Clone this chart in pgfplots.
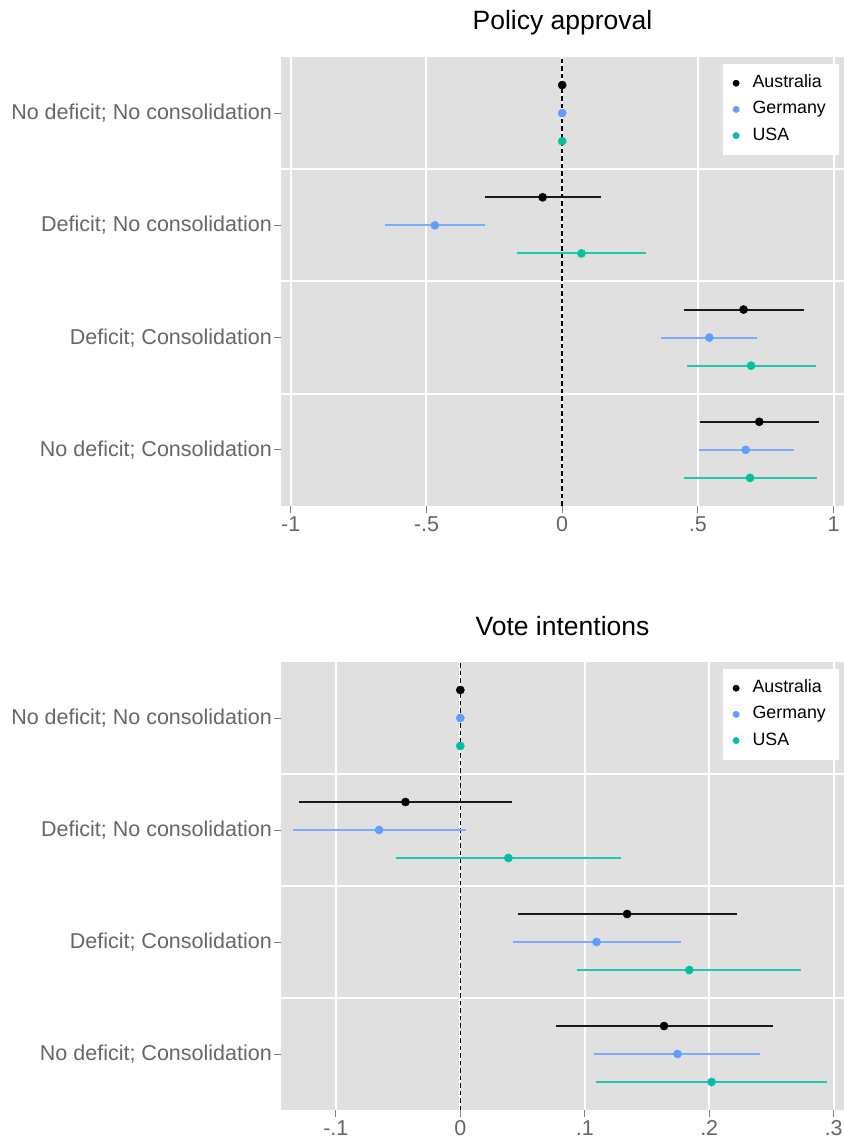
\documentclass[border=0pt]{standalone}
\usepackage{fontspec}
\setmainfont{Liberation Sans}
\usepackage{pgfplots}
\pgfplotsset{compat=1.18}
\usepackage{pgfplotstable}
\definecolor{panel}{HTML}{E0E0E0}
\definecolor{labgray}{HTML}{666666}
\definecolor{tickgray}{HTML}{7F7F7F}
\definecolor{gerblue}{HTML}{619CFF}
\definecolor{usateal}{HTML}{00BFA4}
\colorlet{ausline}{black!90!white}
\colorlet{gerline}{gerblue!85!white}
\colorlet{usaline}{usateal!88!white}

% ---------- Policy approval: point estimates ----------
\pgfplotstableread{
x y
0 4.25
-0.072 3.25
0.668 2.25
0.726 1.25
}\PAaus
\pgfplotstableread{
x y
0 4
-0.469 3
0.542 2
0.676 1
}\PAger
\pgfplotstableread{
x y
0 3.75
0.071 2.75
0.696 1.75
0.692 0.75
}\PAusa
% ---------- Policy approval: confidence intervals (lo, hi) ----------
\pgfplotstableread{
x y
-0.286 3.25
0.143 3.25
nan nan
0.447 2.25
0.890 2.25
nan nan
0.508 1.25
0.945 1.25
}\PAausci
\pgfplotstableread{
x y
-0.651 3
-0.286 3
nan nan
0.364 2
0.719 2
nan nan
0.503 1
0.853 1
}\PAgerci
\pgfplotstableread{
x y
-0.166 2.75
0.310 2.75
nan nan
0.460 1.75
0.936 1.75
nan nan
0.450 0.75
0.937 0.75
}\PAusaci
% ---------- Vote intentions: point estimates ----------
\pgfplotstableread{
x y
0 4.25
-0.0441 3.25
0.134 2.25
0.1637 1.25
}\VIaus
\pgfplotstableread{
x y
0 4
-0.0653 3
0.1095 2
0.1745 1
}\VIger
\pgfplotstableread{
x y
0 3.75
0.0386 2.75
0.184 1.75
0.2019 0.75
}\VIusa
% ---------- Vote intentions: confidence intervals ----------
\pgfplotstableread{
x y
-0.130 3.25
0.0415 3.25
nan nan
0.0462 2.25
0.2224 2.25
nan nan
0.0765 1.25
0.251 1.25
}\VIausci
\pgfplotstableread{
x y
-0.1344 3
0.0044 3
nan nan
0.0421 2
0.1772 2
nan nan
0.1077 1
0.241 1
}\VIgerci
\pgfplotstableread{
x y
-0.0518 2.75
0.129 2.75
nan nan
0.0939 1.75
0.274 1.75
nan nan
0.1094 0.75
0.2945 0.75
}\VIusaci

\pgfplotsset{
  coefstyle/.style={
    scale only axis, width=563pt,
    ymin=0.5, ymax=4.5,
    ytick={1,2,3,4},
    yticklabels={No deficit; Consolidation, Deficit; Consolidation, Deficit; No consolidation, No deficit; No consolidation},
    axis background/.style={fill=panel},
    axis line style={draw=none},
    tick align=outside, tick pos=left,
    major tick length=7pt,
    tick style={draw=tickgray, line width=1pt},
    xmajorgrids=true,
    grid style={white, line width=2pt},
    extra y ticks={1.5,2.5,3.5},
    extra y tick labels={},
    extra y tick style={grid=major, major tick length=0pt},
    yticklabel style={font=\fontsize{21.5}{25}\selectfont, text=labgray, inner xsep=2pt},
    xticklabel style={font=\fontsize{21.5}{25}\selectfont, text=labgray},
    title style={font=\fontsize{26.5}{30}\selectfont, at={(0.5,1)}, anchor=base, yshift=21pt},
    unbounded coords=jump,
    legend cell align=left,
    legend style={at={(1,1)}, anchor=north east, xshift=-5pt, yshift=-7pt,
      draw=none, fill=white, font=\fontsize{17.8}{22}\selectfont,
      inner xsep=10pt, inner ysep=10.5pt, row sep=9.2pt, column sep=0pt,
      nodes={inner sep=0pt, text height=13pt, text depth=4pt}},
    legend image code/.code={
      \path[draw=none, fill=none] (-3.2pt,0pt) -- (16.5pt,0pt);
      \path[draw=none, fill=none, #1, only marks, mark size=3.2pt] plot coordinates {(0pt,0pt)};
    },
  },
  est/.style={only marks, mark=*, mark size=4.1pt,
    mark options={solid, draw=#1, fill=#1, line width=0.4pt}, color=#1},
  ci/.style={#1, solid, line width=2pt, no marks, forget plot},
}

\begin{document}
\begin{tikzpicture}
\useasboundingbox (-281pt,-642pt) rectangle (563pt,506pt);
\begin{axis}[coefstyle, height=449pt,
  xmin=-1.0357, xmax=1.038,
  xtick={-1,-0.5,0,0.5,1}, xticklabels={-1,-.5,0,.5,1},
  title={Policy approval}]
\addplot[black, dashed, line width=1.4pt, dash pattern=on 4.5pt off 3pt, forget plot] coordinates {(0,0.5) (0,4.5)};
\addplot[ci=ausline] table[x=x, y=y] {\PAausci};
\addplot[ci=gerline] table[x=x, y=y] {\PAgerci};
\addplot[ci=usaline] table[x=x, y=y] {\PAusaci};
\addplot[est=black] table[x=x, y=y] {\PAaus};
\addlegendentry{Australia}
\addplot[est=gerblue] table[x=x, y=y] {\PAger};
\addlegendentry{Germany\hspace*{3pt}}
\addplot[est=usateal] table[x=x, y=y] {\PAusa};
\addlegendentry{USA}
\end{axis}

\begin{axis}[coefstyle, height=448pt, at={(0pt,-604pt)},
  xmin=-0.1441, xmax=0.3083,
  xtick={-0.1,0,0.1,0.2,0.3}, xticklabels={-.1,0,.1,.2,.3},
  title={Vote intentions}]
\addplot[black, dashed, line width=1.4pt, dash pattern=on 4.5pt off 3pt, forget plot] coordinates {(0,0.5) (0,4.5)};
\addplot[ci=ausline] table[x=x, y=y] {\VIausci};
\addplot[ci=gerline] table[x=x, y=y] {\VIgerci};
\addplot[ci=usaline] table[x=x, y=y] {\VIusaci};
\addplot[est=black] table[x=x, y=y] {\VIaus};
\addlegendentry{Australia}
\addplot[est=gerblue] table[x=x, y=y] {\VIger};
\addlegendentry{Germany\hspace*{3pt}}
\addplot[est=usateal] table[x=x, y=y] {\VIusa};
\addlegendentry{USA}
\end{axis}
\end{tikzpicture}
\end{document}
